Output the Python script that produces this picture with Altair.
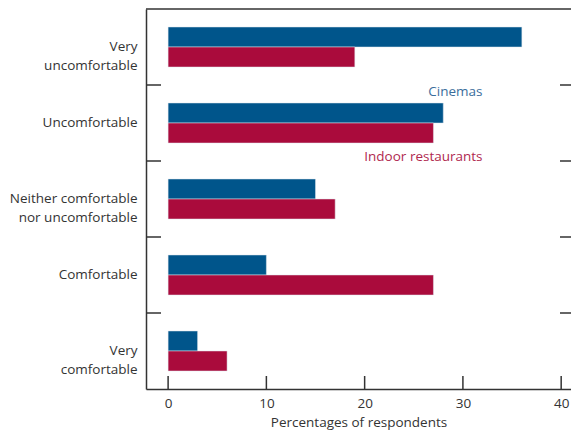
import altair as alt
import pandas as pd

categories = ["Very|uncomfortable", "Uncomfortable", "Neither comfortable|nor uncomfortable",
              "Comfortable", "Very|comfortable"]
series = ["Cinemas", "Indoor restaurants"]
cinemas = [36, 28, 15, 10, 3]
restaurants = [19, 27, 17, 27, 6]
x_ticks = [0, 10, 20, 30, 40]
bar_colors = ["#00558B", "#AA0B3C"]
label_colors = ["#3B6E9C", "#B0284F"]
label_x = [32, 32]

rows = []
for c, a, b in zip(categories, cinemas, restaurants):
    rows.append({"cat": c, "series": series[0], "value": a})
    rows.append({"cat": c, "series": series[1], "value": b})
df = pd.DataFrame(rows)

W, H = 425, 380
FONT = "Open Sans"
FS = 13.5
LINE = "#333333"

xscale = alt.Scale(domain=[-2.25, 41.0], nice=False, zero=False)
yscale = alt.Scale(domain=categories, paddingInner=0, paddingOuter=0)

bars = alt.Chart(df).mark_bar(stroke="#dfe4ec", strokeWidth=0.5).encode(
    x=alt.X("value:Q", scale=xscale,
            axis=alt.Axis(values=x_ticks, title="Percentages of respondents", ticks=False, grid=False,
                          domainColor=LINE, domainWidth=1.5, labelPadding=7, titlePadding=6,
                          labelFlush=False)),
    x2=alt.datum(0),
    y=alt.Y("cat:N", scale=yscale, sort=categories,
            axis=alt.Axis(title=None, ticks=False, grid=False, domainColor=LINE, domainWidth=1.5,
                          labelExpr="split(datum.label, '|')", labelPadding=9,
                          labelLineHeight=19, labelAlign="right")),
    yOffset=alt.YOffset("series:N", scale=alt.Scale(domain=series, paddingOuter=0.9, paddingInner=0)),
    color=alt.Color("series:N", scale=alt.Scale(domain=series, range=bar_colors), legend=None),
)

sep_df = pd.DataFrame({"cat": categories[1:]})
sep_left = alt.Chart(sep_df).mark_rule(color=LINE, strokeWidth=1.5).encode(
    y=alt.Y("cat:N", scale=yscale, sort=categories, bandPosition=0, title=None),
    x=alt.value(0), x2=alt.value(15),
)
sep_right = alt.Chart(sep_df).mark_rule(color=LINE, strokeWidth=1.5).encode(
    y=alt.Y("cat:N", scale=yscale, sort=categories, bandPosition=0, title=None),
    x=alt.value(W - 11), x2=alt.value(W),
)

tick_df = pd.DataFrame({"value": x_ticks})
xticks = alt.Chart(tick_df).mark_rule(color=LINE, strokeWidth=1.5).encode(
    x=alt.X("value:Q", scale=xscale, title="Percentages of respondents"),
    y=alt.value(H - 13), y2=alt.value(H),
)

top_line = alt.Chart(pd.DataFrame({"a": [0]})).mark_rule(color=LINE, strokeWidth=1.5).encode(
    x=alt.value(0), x2=alt.value(W), y=alt.value(0),
)

lab_df = pd.DataFrame({"series": series, "value": label_x, "cat": [categories[1], categories[1]]})
lab_c = alt.Chart(lab_df[lab_df.series == series[0]]).mark_text(
    align="right", baseline="middle", dy=-31, font=FONT, fontSize=FS, color=label_colors[0]
).encode(
    x=alt.X("value:Q", scale=xscale, title="Percentages of respondents"),
    y=alt.Y("cat:N", scale=yscale, sort=categories, title=None),
    text="series:N",
)
lab_r = alt.Chart(lab_df[lab_df.series == series[1]]).mark_text(
    align="right", baseline="middle", dy=34, font=FONT, fontSize=FS, color=label_colors[1]
).encode(
    x=alt.X("value:Q", scale=xscale, title="Percentages of respondents"),
    y=alt.Y("cat:N", scale=yscale, sort=categories, title=None),
    text="series:N",
)

chart = alt.layer(bars, sep_left, sep_right, xticks, top_line, lab_c, lab_r).properties(
    width=W, height=H,
    autosize=alt.AutoSizeParams(type="none"),
    padding={"left": 138, "top": 1, "right": 0, "bottom": 43},
).configure_view(stroke=None).configure_axis(
    labelFont=FONT, labelFontSize=FS, labelColor="#333333",
    titleFont=FONT, titleFontSize=FS, titleColor="#333333", titleFontWeight="normal",
)

chart.save("out.html", embed_options={"renderer": "svg", "actions": False})
